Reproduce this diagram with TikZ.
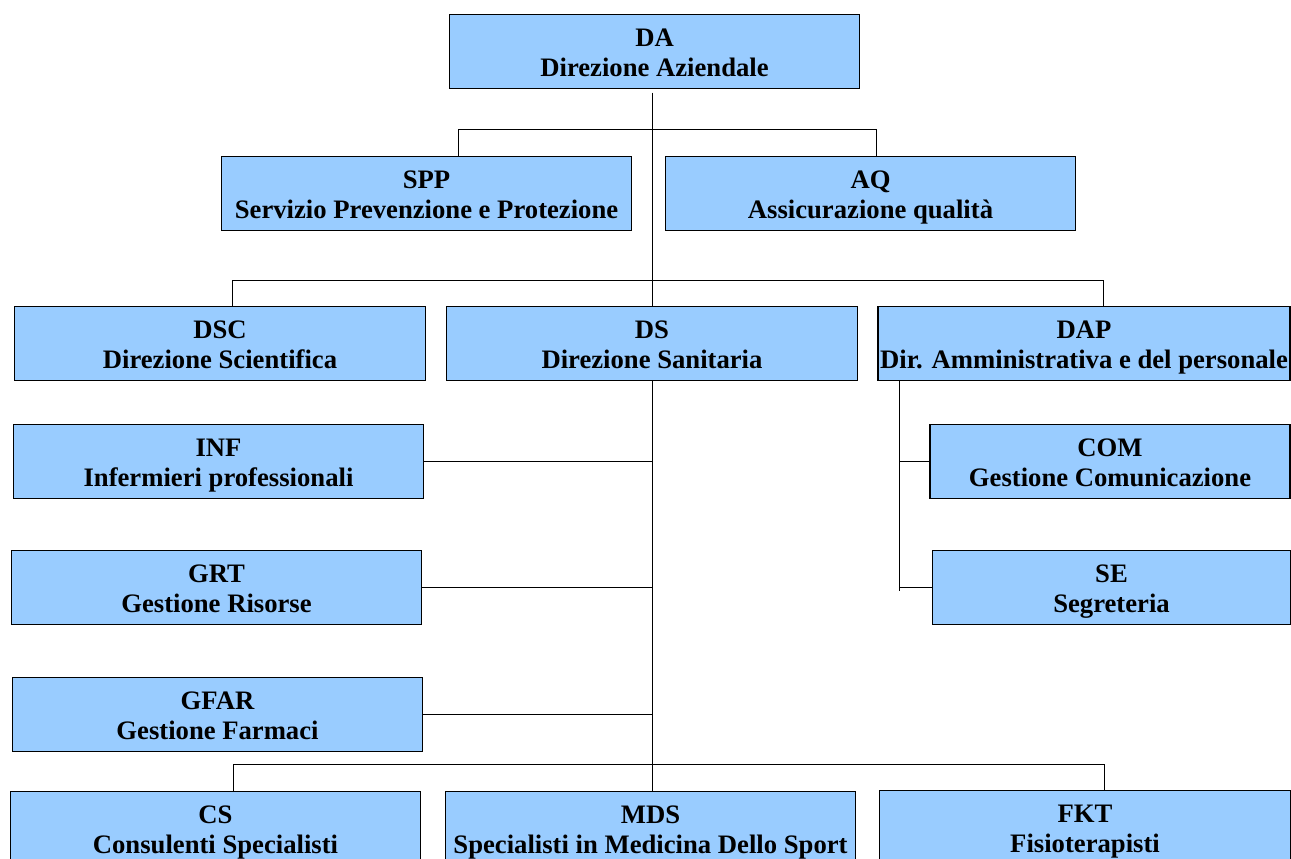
\documentclass[tikz,border=0pt]{standalone}
\usepackage{fontspec}
\setmainfont{Liberation Serif}
\usetikzlibrary{calc}
\definecolor{boxblue}{RGB}{153,204,255}
\tikzset{
  unit/.style={draw=black, line width=0.8pt, fill=boxblue, minimum width=308pt, minimum height=55pt,
    inner sep=0pt, text height=40.8pt, text depth=3pt, align=center,
    font=\bfseries\fontsize{20}{23}\selectfont},
  link/.style={draw=black, line width=0.75pt}
}
\begin{document}
\begin{tikzpicture}[x=0.75pt,y=0.75pt,yscale=-1,xscale=1]
\useasboundingbox (0,0) rectangle (1291,858);

% Text Node
\node [unit] (DA) at (654.5,51.5) {DA\\Direzione Aziendale};
% Text Node
\node [unit] (SPP) at (426.5,193.5) {SPP\\Servizio Prevenzione e Protezione};
% Text Node
\node [unit] (AQ) at (870.5,193.5) {AQ\\Assicurazione qualità};
% Text Node
\node [unit] (DSC) at (220,343.5) {DSC\\Direzione Scientifica};
% Text Node
\node [unit] (DS) at (652,343.5) {DS\\Direzione Sanitaria};
% Text Node
\node [unit, minimum width=309pt] (DAP) at (1084,343.5) {DAP\\Dir. Amministrativa e del personale};
% Text Node
\node [unit] (INF) at (218.5,461.5) {INF\\Infermieri professionali};
% Text Node
\node [unit] (GRT) at (216.5,587.5) {GRT\\Gestione Risorse};
% Text Node
\node [unit] (GFAR) at (217.5,714.5) {GFAR\\Gestione Farmaci};
% Text Node
\node [unit, minimum width=270pt] (COM) at (1110,461.5) {COM\\Gestione Comunicazione};
% Text Node
\node [unit, minimum width=268pt] (SE) at (1111.5,587.5) {SE\\Segreteria};
% Text Node
\node [unit] (CS) at (215.5,828.5) {CS\\Consulenti Specialisti};
% Text Node
\node [unit] (MDS) at (650.5,828.5) {MDS\\Specialisti in Medicina Dello Sport};
% Text Node
\node [unit] (FKT) at (1085,827.5) {FKT\\Fisioterapisti};

% Connection
\draw [link] ($(DS.north |- DA.south)+(0,4)$) -- (DS.north);
% Connection
\draw [link] ($(SPP.north)+(31.5,0)$) -- ++(0,-27) -| ($(AQ.north)+(5.5,0)$);
% Connection
\draw [link] ($(DSC.north)+(12,0)$) -- ++(0,-26) -| ($(DAP.north)+(19,0)$);
% Connection
\draw [link] (INF.east) -- (INF.east -| DS.south);
% Connection
\draw [link] (GRT.east) -- (GRT.east -| DS.south);
% Connection
\draw [link] (GFAR.east) -- (GFAR.east -| DS.south);
% Connection
\draw [link] (DS.south) -- (DS.south |- MDS.north);
% Connection
\draw [link] ($(CS.north)+(17.5,0)$) -- ++(0,-27) -| ($(FKT.north)+(19,0)$);
% Connection
\draw [link] ($(DAP.south west)+(22,0)$) -- ($(DAP.south west |- SE.west)+(22,3)$);
\draw [link] ($(DAP.south west |- COM.west)+(22,0)$) -- (COM.west);
\draw [link] ($(DAP.south west |- SE.west)+(22,0)$) -- (SE.west);

\end{tikzpicture}
\end{document}
